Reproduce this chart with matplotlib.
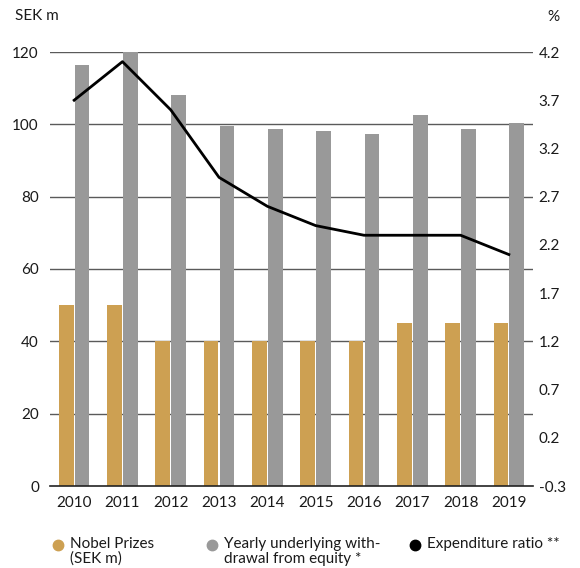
import matplotlib
matplotlib.use("Agg")
import matplotlib.pyplot as plt
from matplotlib.lines import Line2D
import numpy as np

plt.rcParams['font.family'] = ['Lato', 'DejaVu Sans']

years = ["2010", "2011", "2012", "2013", "2014", "2015", "2016", "2017", "2018", "2019"]
nobel_prizes = [50, 50, 40, 40, 40, 40, 40, 45, 45, 45]
withdrawal = [116.5, 120, 108, 99.5, 98.7, 98.1, 97.3, 102.6, 98.7, 100.4]
expenditure_ratio = [3.7, 4.1, 3.6, 2.9, 2.6, 2.4, 2.3, 2.3, 2.3, 2.1]
left_ticks = [0, 20, 40, 60, 80, 100, 120]
right_ticks = [-0.3, 0.2, 0.7, 1.2, 1.7, 2.2, 2.7, 3.2, 3.7, 4.2]

gold = "#CDA052"
grey = "#999999"
txt = "#1a1a1a"
fs = 11

fig = plt.figure(figsize=(5.8, 5.68), dpi=100)
ax = fig.add_axes([50/580, 1-486/568, (533-50)/580, (486-52)/568])
x = np.arange(len(years))
w = 0.305
for t in left_ticks[1:]:
    ax.axhline(t, color="#5a5a5a", lw=1.0, zorder=0.5)
ax.bar(x - 0.165, nobel_prizes, width=w, color=gold, zorder=2)
ax.bar(x + 0.165, withdrawal, width=w, color=grey, zorder=2)
ax.set_xlim(-0.5, len(years) - 0.5)
ax.set_ylim(0, 120)
ax.set_yticks(left_ticks)
ax.set_yticklabels([str(t) for t in left_ticks])
ax.set_xticks(x)
ax.set_xticklabels(years)
for s in ["top", "right", "left"]:
    ax.spines[s].set_visible(False)
ax.spines["bottom"].set_color("#222222")
ax.spines["bottom"].set_linewidth(1.2)
ax.spines["bottom"].set_zorder(5)
ax.tick_params(axis="both", length=0, labelsize=fs, colors=txt)
ax.tick_params(axis="x", pad=7)
ax.tick_params(axis="y", pad=8)

ax2 = ax.twinx()
ax2.plot(x, expenditure_ratio, color="black", lw=2, zorder=3)
ax2.set_ylim(-0.3, 4.2)
ax2.set_yticks(right_ticks)
ax2.set_yticklabels([f"{t:.1f}" for t in right_ticks])
for s in ["top", "right", "left", "bottom"]:
    ax2.spines[s].set_visible(False)
ax2.tick_params(axis="y", length=0, labelsize=fs, colors=txt, pad=4)

fig.text(15/580, 1-16/568, "SEK m", fontsize=fs, color=txt, va="center", ha="left")
fig.text(553/580, 1-17/568, "%", fontsize=fs, color=txt, va="center", ha="center")

# legend
items = [(58, gold, "Nobel Prizes\n(SEK m)"),
         (212, grey, "Yearly underlying with-\ndrawal from equity *"),
         (415, "black", "Expenditure ratio **")]
for px, c, label in items:
    fig.add_artist(Line2D([px/580], [1-545/568], marker="o", markersize=7.5,
                          color=c, lw=0, transform=fig.transFigure))
    fig.text((px+12)/580, 1-537/568, label, fontsize=fs, color=txt,
             va="top", ha="left", linespacing=1.05)

fig.savefig("out.png", dpi=100)
